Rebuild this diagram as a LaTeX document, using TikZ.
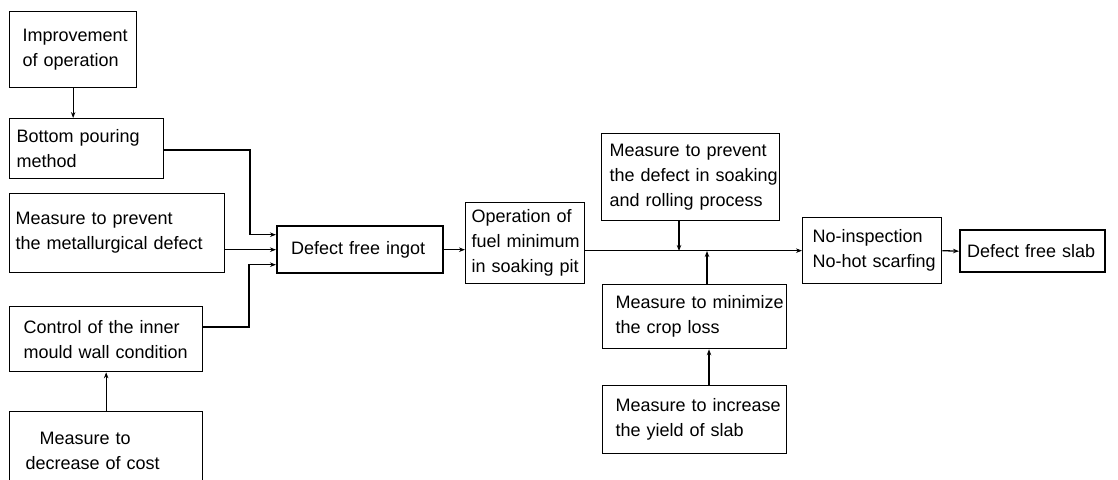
\documentclass[tikz,border=0pt]{standalone}
\usepackage{fontspec}
\setmainfont{Liberation Sans}
\usetikzlibrary{arrows.meta,calc}
\hyphenpenalty=10000
\exhyphenpenalty=10000
\begin{document}
\begin{tikzpicture}[x=1pt,y=-1pt,
  box/.style={draw, line width=1.3pt, align=left, inner ysep=0pt, anchor=north west,
    font=\fontsize{18}{25}\selectfont},
  heavybox/.style={box, line width=2.4pt},
  arr/.style={line width=1.3pt, -{Stealth[length=6pt,width=4.5pt]}}]
\useasboundingbox (0,0) rectangle (1118,479);

% left column
\node[box, minimum width=127pt, minimum height=76pt, text width=101pt, inner xsep=13pt] (imp) at (9,11)
  {\mbox{Improvement}\\\mbox{of operation}};
\node[box, minimum width=154pt, minimum height=60pt, text width=140pt, inner xsep=7pt] (bot) at (9,118)
  {\mbox{Bottom pouring}\\\mbox{method}};
\node[box, minimum width=215pt, minimum height=79pt, text width=203pt, inner xsep=6pt] (met) at (9,193)
  {\mbox{Measure to prevent}\\\mbox{the metallurgical defect}};
\node[box, minimum width=193pt, minimum height=65pt, text width=165pt, inner xsep=14pt] (con) at (9,306)
  {\mbox{Control of the inner}\\\mbox{mould wall condition}};
\node[box, minimum width=193pt, minimum height=78pt, text width=161pt, inner xsep=16pt] (cost) at (9,411)
  {\hspace*{14pt}\mbox{Measure to}\\\mbox{decrease of cost}};

% middle
\node[heavybox, minimum width=166pt, minimum height=47pt, text width=138pt, inner xsep=14pt] (ingot) at (276,225)
  {\mbox{Defect free ingot}};
\node[box, minimum width=119pt, minimum height=81pt, text width=107pt, inner xsep=6pt] (oper) at (465,202)
  {\mbox{Operation of}\\\mbox{fuel minimum}\\\mbox{in soaking pit}};

% right part
\node[box, minimum width=178pt, minimum height=87pt, text width=162pt, inner xsep=8pt] (soak) at (601,133)
  {\mbox{Measure to prevent}\\\mbox{the defect in soaking}\\\mbox{and rolling process}};
\node[box, minimum width=184pt, minimum height=64pt, text width=158pt, inner xsep=13pt] (crop) at (602,284)
  {\mbox{Measure to minimize}\\\mbox{the crop loss}};
\node[box, minimum width=184pt, minimum height=68pt, text width=158pt, inner xsep=13pt] (yield) at (602,385)
  {\mbox{Measure to increase}\\\mbox{the yield of slab}};
\node[box, minimum width=139pt, minimum height=66pt, text width=119pt, inner xsep=10pt] (insp) at (802,217)
  {\mbox{No-inspection}\\\mbox{No-hot scarfing}};
\node[heavybox, minimum width=145pt, minimum height=42pt, text width=131pt, inner xsep=7pt] (slab) at (959,229)
  {\mbox{Defect free slab}};

% junctions
\coordinate (jb) at (250,150);
\coordinate (jc) at (249,327);
\coordinate (j1) at (679,251);
\coordinate (j2) at (707,251);
\coordinate (j3) at (709,0);

% connectors
\draw[arr] (imp.south) -- (imp.south |- bot.north);
\draw[arr] (bot.east |- jb) -- (jb) |- ($(ingot.west)+(0,-15)$);
\draw[arr] (met.east |- ingot.west) -- (ingot.west);
\draw[arr] (con.east |- jc) -- (jc) |- ($(ingot.west)+(0,15)$);
\draw[arr] (cost.north) -- (con.south);
\draw[arr] (ingot.east) -- (ingot.east -| oper.west);
\draw[arr] (oper.east |- insp.west) -- (insp.west);
\draw[arr] (soak.south -| j1) -- (j1);
\draw[arr] (crop.north -| j2) -- (j2);
\draw[arr] (yield.north -| j3) -- (crop.south -| j3);
\draw[arr] (insp.east) -- (slab.west);
\end{tikzpicture}
\end{document}
